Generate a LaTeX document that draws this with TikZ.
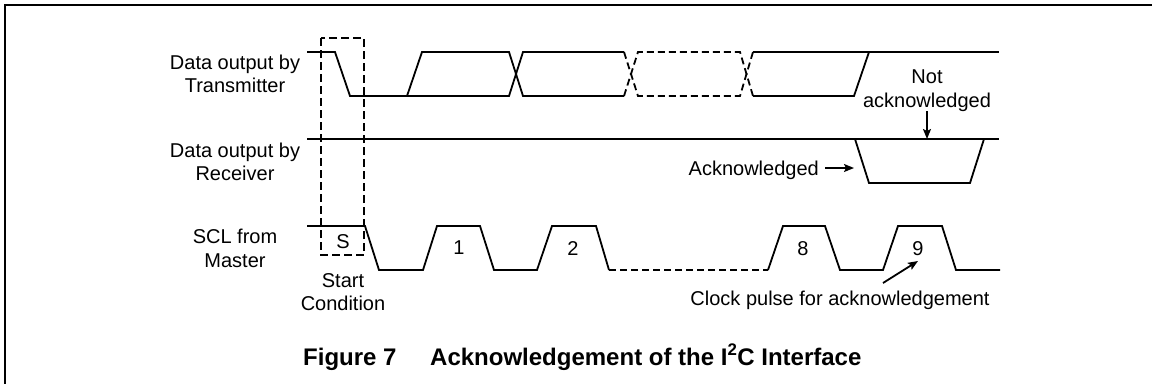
\documentclass[tikz,border=0pt]{standalone}
\usepackage{fontspec}
\setmainfont{Liberation Sans}
\usetikzlibrary{arrows.meta}
\tikzset{
  wave/.style={line width=1.8pt, line join=miter},
  dwave/.style={wave, dash pattern=on 7pt off 4pt},
  lbl/.style={inner sep=0pt, anchor=base, font=\fontsize{20pt}{23pt}\selectfont},
  capt/.style={inner sep=0pt, anchor=base west, font=\fontsize{24pt}{28pt}\selectfont\bfseries},
  arr/.style={line width=1.8pt, -{Stealth[length=10pt,width=8pt,inset=2pt]}},
  frameline/.style={line width=2.4pt},
  startbox/.style={line width=1.5pt, dash pattern=on 8pt off 4pt}
}
\begin{document}
\begin{tikzpicture}[x=1pt,y=-1pt]
\useasboundingbox (0,0) rectangle (1152,384);
% frame (top and left edges)
\draw[frameline] (1152,5) -- (5,5) -- (5,384);

% row labels
\node[lbl] (t1) at (235,69) {Data output by};
\node[lbl] (t2) at (235,92) {Transmitter};
\node[lbl] (r1) at (235,157) {Data output by};
\node[lbl] (r2) at (235,180) {Receiver};
\node[lbl] (s1) at (235,243) {SCL from};
\node[lbl] (s2) at (235,267) {Master};

% start condition box
\draw[startbox] (321,38) rectangle (364,255);
\node[lbl] (sS) at (343,248) {S};
\node[lbl] (st1) at (343,287) {Start};
\node[lbl] (st2) at (343,310) {Condition};

% transmitter waveform
\draw[wave] (307,52) -- (335,52) -- (350,96) -- (509,96) -- (523,52) -- (624,52);
\draw[wave] (407,96) -- (422,52) -- (509,52) -- (523,96) -- (624,96);
\draw[dwave] (624,52) -- (638,96) -- (740,96) -- (753,52);
\draw[dwave] (624,96) -- (638,52) -- (740,52) -- (753,96);
\draw[wave] (753,52) -- (999,52);
\draw[wave] (753,96) -- (854,96) -- (869,52);

% receiver waveform
\draw[wave] (307,139) -- (999,139);
\draw[wave] (855,139) -- (869,183) -- (970,183) -- (984,139);

% SCL waveform
\draw[wave] (307,226) -- (365,226) -- (379,270) -- (423,270) -- (437,226) -- (480,226)
  -- (494,270) -- (537,270) -- (552,226) -- (596,226) -- (609,270);
\draw[dwave] (609,270) -- (768,270);
\draw[wave] (768,270) -- (783,226) -- (825,226) -- (840,270) -- (883,270) -- (898,226)
  -- (942,226) -- (956,270) -- (1000,270);
\node[lbl] (p1) at (459,254) {1};
\node[lbl] (p2) at (573,255) {2};
\node[lbl] (p8) at (803,255) {8};
\node[lbl] (p9) at (918,255) {9};

% annotations
\node[lbl] (nak1) at (927,83) {Not};
\node[lbl] (nak2) at (927,107) {acknowledged};
\coordinate (nakTip) at (927,139);
\draw[arr] (nak2.south) -- (nakTip);

\node[lbl, anchor=base east] (ack) at (819,175) {Acknowledged};
\coordinate (ackTip) at (854,168);
\draw[arr] ([xshift=6pt]ack.east |- ackTip) -- (ackTip);

\node[lbl] (clk) at (840,305) {Clock pulse for acknowledgement};
\coordinate (clkTail) at (883,283);
\coordinate (clkTip) at (918,261);
\draw[arr] (clkTail) -- (clkTip);

% caption
\node[capt] (fig) at (303,365) {Figure 7};
\node[capt] (figt) at (430,365) {Acknowledgement of the I\textsuperscript{2}C Interface};
\end{tikzpicture}
\end{document}
